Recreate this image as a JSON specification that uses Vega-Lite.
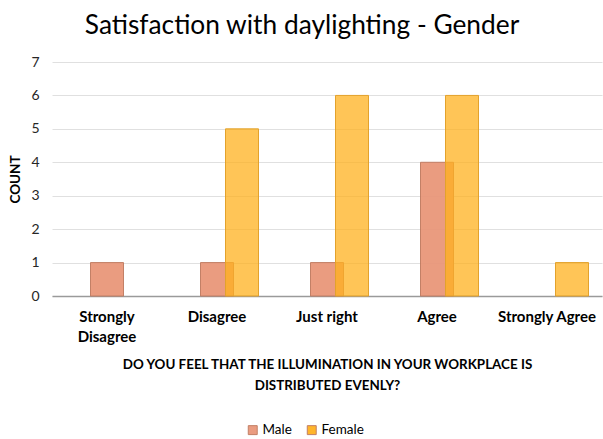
{
  "$schema": "https://vega.github.io/schema/vega-lite/v6.json",
  "autosize": {"type": "none"},
  "padding": {"left": 52, "top": 62, "right": 1, "bottom": 143},
  "width": 550,
  "height": 234,
  "background": "white",
  "config": {"view": {"stroke": null}},
  "title": {
    "text": "Satisfaction with daylighting - Gender",
    "font": "Lato",
    "fontSize": 26.3,
    "fontWeight": "normal",
    "color": "#000000",
    "anchor": "middle",
    "dx": -25,
    "offset": 16
  },
  "data": {
    "values": [
      {"response": "Strongly Disagree", "gender": "Male", "count": 1},
      {"response": "Disagree", "gender": "Male", "count": 1},
      {"response": "Just right", "gender": "Male", "count": 1},
      {"response": "Agree", "gender": "Male", "count": 4},
      {"response": "Strongly Agree", "gender": "Male", "count": 0},
      {"response": "Strongly Disagree", "gender": "Female", "count": 0},
      {"response": "Disagree", "gender": "Female", "count": 5},
      {"response": "Just right", "gender": "Female", "count": 6},
      {"response": "Agree", "gender": "Female", "count": 6},
      {"response": "Strongly Agree", "gender": "Female", "count": 1}
    ]
  },
  "encoding": {
    "x": {
      "field": "response",
      "type": "nominal",
      "sort": null,
      "scale": {"domain": ["Strongly Disagree", "Disagree", "Just right", "Agree", "Strongly Agree"], "paddingInner": 0, "paddingOuter": 0},
      "axis": {
        "title": ["DO YOU FEEL THAT THE ILLUMINATION IN YOUR WORKPLACE IS", "DISTRIBUTED EVENLY?"],
        "titleFont": "Lato",
        "titleFontSize": 13.4,
        "titleFontWeight": "bold",
        "titleColor": "#000000",
        "titleLineHeight": 21,
        "titlePadding": 13,
        "labelFont": "Lato",
        "labelFontSize": 15,
        "labelFontWeight": "bold",
        "labelColor": "#000000",
        "labelAngle": 0,
        "labelPadding": 13,
        "labelLineHeight": 20,
        "labelExpr": "datum.label == 'Strongly Disagree' ? ['Strongly', 'Disagree'] : datum.label",
        "ticks": false,
        "domainColor": "#9a9a9a",
        "domainWidth": 1.5,
        "grid": false
      }
    },
    "y": {
      "field": "count",
      "type": "quantitative",
      "scale": {"domain": [0, 7], "nice": false},
      "axis": {
        "title": "COUNT",
        "titleFont": "Lato",
        "titleFontSize": 13.5,
        "titleFontWeight": "bold",
        "titleColor": "#000000",
        "titlePadding": 8,
        "labelFont": "Lato",
        "labelFontSize": 14,
        "labelColor": "#262626",
        "labelPadding": 13,
        "values": [0, 1, 2, 3, 4, 5, 6, 7],
        "domain": false,
        "ticks": false,
        "gridColor": "#e0e0e0",
        "gridWidth": 1
      }
    },
    "color": {
      "field": "gender",
      "type": "nominal",
      "scale": {"domain": ["Male", "Female"], "range": ["#e9977a", "#ffb21f"]},
      "legend": {
        "title": null,
        "orient": "none",
        "direction": "horizontal",
        "legendX": 194,
        "legendY": 361,
        "symbolType": "square",
        "symbolSize": 80,
        "symbolStrokeWidth": 1,
        "labelFont": "Lato",
        "labelFontSize": 13.5,
        "labelColor": "#000000",
        "columnPadding": 13,
        "labelOffset": 3
      }
    }
  },
  "layer": [
    {
      "transform": [{"filter": "datum.gender == 'Male' && datum.count > 0"}],
      "mark": {"type": "bar", "width": 33, "stroke": "#c07a5e", "strokeWidth": 1, "opacity": 0.95}
    },
    {
      "transform": [{"filter": "datum.gender == 'Female' && datum.count > 0"}],
      "mark": {"type": "bar", "width": 33, "xOffset": 25, "stroke": "#e3a22c", "strokeWidth": 1, "fillOpacity": 0.75}
    }
  ]
}
